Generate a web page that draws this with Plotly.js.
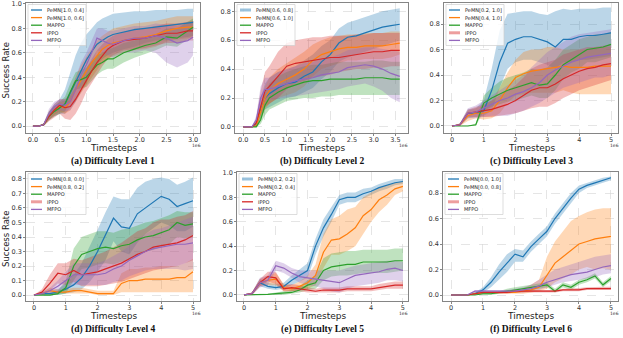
<!DOCTYPE html>
<html>
<head>
<meta charset="utf-8">
<script src="https://cdn.plot.ly/plotly-3.0.1.min.js"></script>
<style>html,body{margin:0;padding:0;background:#fff}</style>
</head>
<body>
<div id="chart" style="width:623px;height:338px"></div>
<script>
// timesteps are in units of 1e6

// (a) Difficulty Level 1
const aX = [0,0.1,0.2,0.3,0.4,0.5,0.6,0.7,0.8,0.9,1.0,1.1,1.2,1.3,1.4,1.5,1.7,1.9,2.1,2.3,2.5,2.7,2.9,3.0];
const aBlue = [0,0,0.01,0.08,0.12,0.15,0.18,0.27,0.36,0.46,0.54,0.61,0.67,0.7,0.73,0.75,0.77,0.79,0.8,0.81,0.82,0.83,0.845,0.85];
const aBlueHi = [0,0,0.02,0.12,0.18,0.22,0.3,0.45,0.58,0.68,0.75,0.8,0.85,0.88,0.9,0.92,0.93,0.94,0.94,0.95,0.95,0.95,0.96,0.96];
const aBlueLo = [0,0,0,0.05,0.08,0.1,0.1,0.15,0.2,0.28,0.35,0.45,0.5,0.55,0.58,0.6,0.63,0.65,0.68,0.7,0.7,0.72,0.73,0.74];
const aOrange = [0,0,0.01,0.08,0.12,0.16,0.15,0.2,0.3,0.38,0.45,0.52,0.58,0.63,0.66,0.68,0.7,0.72,0.73,0.75,0.78,0.8,0.81,0.81];
const aOrangeHi = [0,0,0.02,0.11,0.16,0.2,0.2,0.28,0.4,0.5,0.57,0.64,0.7,0.74,0.77,0.8,0.82,0.84,0.85,0.86,0.88,0.9,0.9,0.9];
const aOrangeLo = [0,0,0,0.05,0.09,0.12,0.1,0.13,0.2,0.27,0.34,0.4,0.46,0.52,0.55,0.57,0.6,0.62,0.63,0.65,0.69,0.71,0.72,0.72];
const aGreen = [0,0,0.01,0.08,0.12,0.15,0.18,0.28,0.37,0.38,0.4,0.45,0.5,0.52,0.55,0.55,0.6,0.63,0.66,0.68,0.73,0.72,0.78,0.81];
const aGreenHi = [0,0,0.02,0.12,0.16,0.2,0.24,0.35,0.44,0.46,0.48,0.53,0.58,0.6,0.63,0.64,0.68,0.7,0.73,0.75,0.8,0.8,0.85,0.88];
const aGreenLo = [0,0,0,0.05,0.08,0.1,0.12,0.2,0.3,0.31,0.32,0.37,0.42,0.45,0.47,0.47,0.52,0.56,0.59,0.62,0.66,0.65,0.71,0.74];
const aRed = [0,0,0.01,0.08,0.13,0.17,0.15,0.16,0.22,0.3,0.38,0.45,0.52,0.58,0.63,0.66,0.7,0.71,0.72,0.74,0.76,0.76,0.78,0.78];
const aRedHi = [0,0,0.02,0.12,0.18,0.22,0.22,0.25,0.32,0.4,0.48,0.55,0.62,0.67,0.71,0.74,0.77,0.79,0.8,0.82,0.84,0.84,0.85,0.86];
const aRedLo = [0,0,0,0.04,0.07,0.1,0.06,0.05,0.1,0.18,0.28,0.35,0.42,0.49,0.55,0.58,0.62,0.63,0.64,0.66,0.68,0.68,0.7,0.7];
const aPurple = [0,0,0.01,0.1,0.16,0.18,0.17,0.2,0.3,0.42,0.5,0.6,0.72,0.7,0.68,0.67,0.7,0.72,0.72,0.74,0.72,0.68,0.7,0.73];
const aPurpleHi = [0,0,0.02,0.14,0.2,0.22,0.22,0.28,0.4,0.52,0.6,0.7,0.8,0.8,0.78,0.78,0.8,0.82,0.82,0.84,0.83,0.82,0.84,0.86];
const aPurpleLo = [0,0,0,0.06,0.11,0.13,0.12,0.13,0.2,0.32,0.4,0.5,0.62,0.6,0.58,0.56,0.6,0.6,0.62,0.6,0.52,0.48,0.52,0.58];
const aNames = ['PeMN[1.0, 0.4]', 'PeMN[1.0, 0.6]', 'MAPPO', 'IPPO', 'MFPO'];

// (b) Difficulty Level 2
const bX = [0,0.2,0.3,0.4,0.5,0.6,0.8,1.0,1.2,1.4,1.6,1.8,2.0,2.2,2.4,2.6,2.8,3.0,3.2,3.4,3.6];
const bBlue = [0,0,0.02,0.12,0.2,0.23,0.27,0.3,0.31,0.35,0.38,0.45,0.5,0.58,0.62,0.63,0.65,0.67,0.69,0.7,0.71];
const bBlueHi = [0,0,0.04,0.2,0.3,0.34,0.38,0.4,0.42,0.46,0.5,0.56,0.6,0.68,0.72,0.74,0.76,0.78,0.8,0.81,0.82];
const bBlueLo = [0,0,0,0.06,0.12,0.14,0.17,0.2,0.21,0.24,0.27,0.33,0.38,0.45,0.48,0.5,0.52,0.54,0.56,0.58,0.6];
const bOrange = [0,0,0.01,0.1,0.2,0.25,0.3,0.33,0.36,0.4,0.46,0.5,0.52,0.54,0.55,0.55,0.56,0.56,0.56,0.57,0.58];
const bOrangeHi = [0,0,0.02,0.16,0.28,0.34,0.4,0.44,0.48,0.52,0.57,0.6,0.62,0.63,0.64,0.64,0.65,0.65,0.65,0.66,0.66];
const bOrangeLo = [0,0,0,0.05,0.12,0.16,0.2,0.22,0.24,0.28,0.35,0.4,0.42,0.44,0.46,0.46,0.47,0.47,0.47,0.48,0.5];
const bGreen = [0,0,0,0.05,0.15,0.2,0.24,0.27,0.29,0.31,0.32,0.32,0.33,0.33,0.33,0.33,0.34,0.34,0.34,0.33,0.33];
const bGreenHi = [0,0,0.01,0.1,0.24,0.3,0.35,0.38,0.4,0.42,0.43,0.43,0.44,0.45,0.45,0.45,0.45,0.46,0.46,0.45,0.45];
const bGreenLo = [0,0,0,0.02,0.08,0.12,0.15,0.18,0.19,0.2,0.2,0.21,0.21,0.22,0.22,0.22,0.22,0.22,0.22,0.22,0.22];
const bRed = [0,0,0.03,0.15,0.25,0.28,0.35,0.42,0.44,0.45,0.46,0.47,0.48,0.48,0.49,0.5,0.51,0.52,0.52,0.53,0.53];
const bRedHi = [0,0,0.06,0.25,0.38,0.42,0.52,0.58,0.6,0.61,0.62,0.62,0.63,0.63,0.63,0.64,0.64,0.65,0.65,0.65,0.65];
const bRedLo = [0,0,0,0.08,0.14,0.16,0.2,0.26,0.3,0.32,0.34,0.35,0.36,0.38,0.39,0.4,0.4,0.41,0.41,0.42,0.42];
const bPurple = [0,0,0.05,0.2,0.26,0.26,0.28,0.3,0.32,0.33,0.34,0.36,0.37,0.38,0.41,0.42,0.43,0.42,0.4,0.37,0.35];
const bPurpleHi = [0,0,0.08,0.28,0.34,0.34,0.38,0.4,0.42,0.44,0.45,0.47,0.48,0.5,0.53,0.54,0.55,0.55,0.54,0.53,0.52];
const bPurpleLo = [0,0,0.02,0.12,0.18,0.18,0.19,0.2,0.21,0.22,0.23,0.24,0.25,0.26,0.28,0.29,0.3,0.28,0.25,0.2,0.17];
const bNames = ['PeMN[0.6, 0.8]', 'PeMN[0.6, 1.0]', 'MAPPO', 'IPPO', 'MFPO'];

// shared grid for levels 3-6
const cX = [0,0.25,0.5,0.75,1.0,1.25,1.5,1.75,2.0,2.25,2.5,2.75,3.0,3.25,3.5,3.75,4.0,4.25,4.5,4.75,5.0];

// (c) Difficulty Level 3
const cBlue = [0,0.01,0.1,0.1,0.12,0.28,0.5,0.65,0.68,0.7,0.7,0.68,0.66,0.62,0.68,0.68,0.7,0.71,0.71,0.72,0.73];
const cBlueHi = [0,0.02,0.13,0.14,0.2,0.45,0.75,0.88,0.89,0.9,0.9,0.88,0.87,0.9,0.92,0.91,0.92,0.92,0.92,0.93,0.93];
const cBlueLo = [0,0,0.06,0.07,0.08,0.12,0.3,0.45,0.5,0.52,0.52,0.5,0.48,0.45,0.5,0.5,0.52,0.52,0.53,0.54,0.55];
const cOrange = [0,0.01,0.08,0.1,0.1,0.12,0.2,0.3,0.38,0.41,0.43,0.44,0.45,0.46,0.47,0.46,0.46,0.46,0.47,0.47,0.47];
const cOrangeHi = [0,0.02,0.12,0.14,0.16,0.2,0.3,0.42,0.52,0.58,0.6,0.6,0.62,0.62,0.6,0.6,0.6,0.6,0.62,0.62,0.62];
const cOrangeLo = [0,0,0.04,0.06,0.05,0.06,0.1,0.18,0.24,0.25,0.26,0.26,0.26,0.26,0.28,0.26,0.25,0.25,0.25,0.25,0.25];
const cGreen = [0,0,0,0.01,0.18,0.22,0.25,0.28,0.3,0.32,0.34,0.32,0.33,0.4,0.48,0.52,0.56,0.6,0.61,0.62,0.64];
const cGreenHi = [0,0,0,0.02,0.24,0.3,0.35,0.38,0.4,0.42,0.45,0.44,0.46,0.52,0.6,0.64,0.68,0.7,0.72,0.72,0.74];
const cGreenLo = [0,0,0,0,0.12,0.15,0.17,0.19,0.2,0.22,0.24,0.22,0.22,0.28,0.37,0.42,0.45,0.5,0.5,0.52,0.54];
const cRed = [0,0.01,0.1,0.11,0.12,0.13,0.15,0.17,0.2,0.24,0.28,0.3,0.3,0.33,0.37,0.4,0.43,0.45,0.46,0.48,0.49];
const cRedHi = [0,0.02,0.13,0.15,0.17,0.2,0.24,0.28,0.32,0.38,0.45,0.48,0.5,0.52,0.56,0.58,0.6,0.62,0.62,0.63,0.64];
const cRedLo = [0,0,0.07,0.07,0.07,0.07,0.08,0.09,0.1,0.12,0.14,0.15,0.15,0.18,0.22,0.25,0.28,0.3,0.32,0.34,0.36];
const cPurple = [0,0.01,0.1,0.11,0.14,0.17,0.2,0.22,0.25,0.27,0.3,0.34,0.4,0.44,0.47,0.5,0.52,0.54,0.55,0.56,0.57];
const cPurpleHi = [0,0.02,0.14,0.16,0.2,0.24,0.28,0.32,0.36,0.4,0.46,0.52,0.58,0.62,0.66,0.7,0.72,0.73,0.74,0.75,0.76];
const cPurpleLo = [0,0,0.06,0.06,0.07,0.08,0.08,0.08,0.1,0.12,0.15,0.18,0.22,0.26,0.3,0.32,0.34,0.36,0.38,0.38,0.4];
const cNames = ['PeMN[0.2, 1.0]', 'PeMN[0.4, 1.0]', 'MAPPO', 'IPPO', 'MFPO'];

// (d) Difficulty Level 4
const dBlue = [0,0.01,0.01,0.02,0.04,0.07,0.12,0.2,0.3,0.42,0.53,0.47,0.46,0.56,0.6,0.64,0.68,0.66,0.61,0.63,0.65];
const dBlueHi = [0,0.02,0.03,0.04,0.08,0.14,0.22,0.33,0.45,0.57,0.68,0.66,0.66,0.74,0.78,0.8,0.81,0.8,0.76,0.78,0.81];
const dBlueLo = [0,0,0,0,0.01,0.02,0.04,0.09,0.16,0.24,0.37,0.3,0.28,0.36,0.42,0.46,0.5,0.48,0.44,0.44,0.47];
const dOrange = [0,0.01,0.03,0.02,0.02,0.03,0.03,0.02,0.01,0.01,0.01,0.08,0.1,0.1,0.11,0.11,0.11,0.11,0.12,0.12,0.16];
const dOrangeHi = [0,0.02,0.05,0.04,0.04,0.05,0.05,0.04,0.03,0.03,0.03,0.15,0.18,0.18,0.19,0.19,0.2,0.2,0.2,0.22,0.25];
const dOrangeLo = [0,0,0.01,0.01,0.01,0.01,0.01,0.01,0,0,0,0.02,0.02,0.02,0.02,0.02,0.02,0.02,0.02,0.02,0.02];
const dGreen = [0,0,0,0.01,0.05,0.2,0.28,0.3,0.32,0.33,0.32,0.34,0.35,0.38,0.4,0.41,0.43,0.45,0.5,0.48,0.49];
const dGreenHi = [0,0.01,0.01,0.03,0.1,0.32,0.4,0.42,0.44,0.44,0.43,0.45,0.46,0.48,0.5,0.51,0.53,0.55,0.58,0.57,0.57];
const dGreenLo = [0,0,0,0,0.01,0.1,0.18,0.19,0.21,0.22,0.21,0.23,0.24,0.27,0.3,0.31,0.33,0.35,0.4,0.39,0.4];
const dRed = [0,0.02,0.08,0.15,0.14,0.17,0.14,0.15,0.16,0.18,0.2,0.22,0.25,0.28,0.3,0.33,0.34,0.35,0.36,0.38,0.41];
const dRedHi = [0,0.04,0.14,0.22,0.22,0.25,0.24,0.26,0.28,0.3,0.33,0.36,0.4,0.44,0.46,0.5,0.52,0.52,0.54,0.55,0.58];
const dRedLo = [0,0.01,0.03,0.08,0.07,0.09,0.06,0.06,0.06,0.07,0.08,0.09,0.11,0.13,0.15,0.17,0.18,0.19,0.2,0.22,0.24];
const dPurple = [0,0.01,0.03,0.06,0.1,0.14,0.14,0.14,0.14,0.15,0.18,0.2,0.24,0.27,0.3,0.32,0.33,0.34,0.35,0.35,0.36];
const dPurpleHi = [0,0.02,0.05,0.1,0.16,0.22,0.22,0.22,0.22,0.24,0.27,0.3,0.34,0.38,0.42,0.45,0.46,0.48,0.5,0.52,0.54];
const dPurpleLo = [0,0,0.01,0.02,0.04,0.07,0.07,0.07,0.07,0.07,0.09,0.1,0.13,0.15,0.17,0.18,0.18,0.18,0.18,0.17,0.18];
const dNames = ['PeMN[0.8, 0.0]', 'PeMN[0.8, 0.2]', 'MAPPO', 'IPPO', 'MFPO'];

// (e) Difficulty Level 5
const eBlue = [0,0.01,0.1,0.07,0.06,0.07,0.12,0.16,0.2,0.4,0.55,0.66,0.78,0.8,0.8,0.83,0.85,0.88,0.9,0.92,0.93];
const eBlueHi = [0,0.02,0.13,0.1,0.09,0.1,0.16,0.21,0.26,0.46,0.62,0.72,0.82,0.84,0.84,0.87,0.88,0.91,0.93,0.95,0.95];
const eBlueLo = [0,0,0.07,0.05,0.04,0.05,0.08,0.11,0.14,0.33,0.48,0.6,0.74,0.76,0.76,0.79,0.82,0.85,0.87,0.9,0.91];
const eOrange = [0,0.01,0.1,0.12,0.13,0.06,0.05,0.07,0.1,0.16,0.35,0.45,0.46,0.5,0.55,0.65,0.7,0.78,0.82,0.87,0.89];
const eOrangeHi = [0,0.02,0.13,0.16,0.18,0.09,0.08,0.11,0.16,0.25,0.5,0.62,0.65,0.7,0.72,0.8,0.84,0.88,0.9,0.92,0.93];
const eOrangeLo = [0,0,0.07,0.08,0.08,0.03,0.03,0.04,0.05,0.08,0.22,0.33,0.33,0.36,0.4,0.5,0.6,0.68,0.74,0.82,0.85];
const eGreen = [0,0,0,0.005,0.01,0.015,0.02,0.04,0.08,0.1,0.2,0.23,0.24,0.25,0.25,0.27,0.27,0.27,0.27,0.28,0.28];
const eGreenHi = [0,0,0.01,0.01,0.02,0.03,0.04,0.07,0.12,0.16,0.3,0.34,0.35,0.36,0.36,0.37,0.37,0.37,0.37,0.38,0.38];
const eGreenLo = [0,0,0,0,0,0,0.01,0.02,0.04,0.05,0.12,0.15,0.16,0.16,0.17,0.18,0.18,0.18,0.18,0.19,0.2];
const eRed = [0,0.01,0.1,0.15,0.14,0.05,0.06,0.05,0.04,0.03,0.04,0.04,0.04,0.05,0.05,0.05,0.05,0.06,0.07,0.08,0.08];
const eRedHi = [0,0.02,0.13,0.19,0.19,0.08,0.09,0.08,0.06,0.05,0.06,0.06,0.06,0.07,0.07,0.07,0.07,0.09,0.1,0.11,0.11];
const eRedLo = [0,0,0.07,0.11,0.09,0.03,0.03,0.03,0.02,0.02,0.02,0.02,0.02,0.03,0.03,0.03,0.03,0.04,0.05,0.05,0.05];
const ePurple = [0,0.01,0.1,0.12,0.24,0.22,0.18,0.15,0.14,0.13,0.12,0.11,0.1,0.13,0.16,0.17,0.18,0.19,0.21,0.22,0.2];
const ePurpleHi = [0,0.02,0.14,0.16,0.28,0.26,0.22,0.2,0.2,0.2,0.2,0.2,0.2,0.22,0.24,0.25,0.26,0.27,0.28,0.28,0.27];
const ePurpleLo = [0,0,0.06,0.08,0.2,0.18,0.14,0.1,0.08,0.07,0.05,0.03,0.02,0.05,0.07,0.08,0.09,0.1,0.12,0.12,0.11];
const eNames = ['PeMN[0.2, 0.2]', 'PeMN[0.2, 0.4]', 'MAPPO', 'IPPO', 'MFPO'];

// (f) Difficulty Level 6
const fBlue = [0,0,0,0.01,0.04,0.1,0.18,0.25,0.32,0.3,0.38,0.44,0.5,0.6,0.68,0.76,0.83,0.86,0.88,0.9,0.92];
const fBlueHi = [0,0,0,0.02,0.06,0.14,0.24,0.32,0.36,0.35,0.42,0.48,0.54,0.64,0.72,0.8,0.86,0.88,0.9,0.92,0.93];
const fBlueLo = [0,0,0,0,0.02,0.06,0.12,0.18,0.26,0.26,0.34,0.4,0.46,0.56,0.64,0.72,0.8,0.84,0.86,0.88,0.9];
const fOrange = [0,0,0,0.01,0.02,0.02,0.02,0.02,0.02,0.03,0.04,0.06,0.15,0.25,0.3,0.35,0.4,0.42,0.44,0.45,0.46];
const fOrangeHi = [0,0,0,0.02,0.03,0.03,0.03,0.03,0.03,0.05,0.08,0.12,0.3,0.42,0.5,0.58,0.62,0.65,0.67,0.68,0.68];
const fOrangeLo = [0,0,0,0,0.01,0.01,0.01,0.01,0.01,0.01,0.02,0.03,0.05,0.1,0.13,0.16,0.2,0.22,0.2,0.21,0.2];
const fGreen = [0,0,0,0,0.01,0.01,0.02,0.03,0.04,0.05,0.06,0.07,0.08,0.03,0.08,0.06,0.1,0.12,0.15,0.08,0.13];
const fGreenHi = [0,0,0,0,0.02,0.02,0.03,0.05,0.06,0.07,0.08,0.09,0.1,0.05,0.1,0.08,0.12,0.14,0.17,0.1,0.15];
const fGreenLo = [0,0,0,0,0,0,0.01,0.02,0.03,0.04,0.04,0.05,0.06,0.02,0.06,0.04,0.08,0.1,0.13,0.06,0.11];
const fRed = [0,0,0,0.01,0.02,0.02,0.02,0.02,0.03,0.03,0.03,0.03,0.03,0.03,0.04,0.04,0.04,0.05,0.05,0.05,0.05];
const fRedHi = [0,0,0,0.02,0.03,0.03,0.03,0.03,0.04,0.04,0.04,0.04,0.04,0.04,0.05,0.05,0.055,0.06,0.065,0.065,0.065];
const fRedLo = [0,0,0,0,0.01,0.01,0.01,0.01,0.02,0.02,0.02,0.02,0.02,0.02,0.03,0.03,0.03,0.04,0.04,0.04,0.04];
const fPurple = [0,0,0,0.03,0.03,0.03,0.03,0.03,0.03,0.04,0.05,0.07,0.1,0.12,0.14,0.16,0.17,0.18,0.2,0.22,0.23];
const fPurpleHi = [0,0,0,0.04,0.04,0.04,0.04,0.04,0.05,0.06,0.08,0.12,0.16,0.2,0.22,0.24,0.26,0.28,0.3,0.31,0.32];
const fPurpleLo = [0,0,0,0.02,0.02,0.02,0.02,0.02,0.02,0.02,0.03,0.04,0.06,0.08,0.1,0.11,0.12,0.13,0.14,0.16,0.17];
const fNames = ['PeMN[0.0, 1.0]', 'PeMN[0.0, 0.8]', 'MAPPO', 'IPPO', 'MFPO'];

const colors = ['31,119,180', '255,127,14', '44,160,44', '214,39,40', '148,103,189'];

const W = 623, H = 338;
const px = v => v / W;
const py = v => 1 - v / H;

// frame = [left, right, top, bottom] in pixels; thick = legend entry drawn as pale wide line
const panels = [
  {x: aX, s: [[aBlue, aBlueLo, aBlueHi], [aOrange, aOrangeLo, aOrangeHi], [aGreen, aGreenLo, aGreenHi], [aRed, aRedLo, aRedHi], [aPurple, aPurpleLo, aPurpleHi]],
   names: aNames, frame: [26, 200, 3, 133], xr: [-0.13, 3.13], yr: [-0.057, 1.008], dx: 0.5, dy: 0.2, xf: '.1f', thick: -1, cap: '(a) Difficulty Level 1', ylab: true},
  {x: bX, s: [[bBlue, bBlueLo, bBlueHi], [bOrange, bOrangeLo, bOrangeHi], [bGreen, bGreenLo, bGreenHi], [bRed, bRedLo, bRedHi], [bPurple, bPurpleLo, bPurpleHi]],
   names: bNames, frame: [235, 408, 3, 133], xr: [-0.19, 3.79], yr: [-0.042, 0.857], dx: 0.5, dy: 0.2, xf: '.1f', thick: 0, cap: '(b) Difficulty Level 2'},
  {x: cX, s: [[cBlue, cBlueLo, cBlueHi], [cOrange, cOrangeLo, cOrangeHi], [cGreen, cGreenLo, cGreenHi], [cRed, cRedLo, cRedHi], [cPurple, cPurpleLo, cPurpleHi]],
   names: cNames, frame: [444, 618, 3, 133], xr: [-0.25, 5.22], yr: [-0.055, 0.965], dx: 1, dy: 0.2, xf: 'd', thick: 3, cap: '(c) Difficulty Level 3'},
  {x: cX, s: [[dBlue, dBlueLo, dBlueHi], [dOrange, dOrangeLo, dOrangeHi], [dGreen, dGreenLo, dGreenHi], [dRed, dRedLo, dRedHi], [dPurple, dPurpleLo, dPurpleHi]],
   names: dNames, frame: [26, 200, 172, 301], xr: [-0.25, 5.22], yr: [-0.041, 0.848], dx: 1, dy: 0.1, xf: 'd', thick: 3, cap: '(d) Difficulty Level 4', ylab: true},
  {x: cX, s: [[eBlue, eBlueLo, eBlueHi], [eOrange, eOrangeLo, eOrangeHi], [eGreen, eGreenLo, eGreenHi], [eRed, eRedLo, eRedHi], [ePurple, ePurpleLo, ePurpleHi]],
   names: eNames, frame: [237, 408, 172, 301], xr: [-0.22, 5.16], yr: [-0.05, 1.008], dx: 1, dy: 0.2, xf: 'd', thick: 0, cap: '(e) Difficulty Level 5'},
  {x: cX, s: [[fBlue, fBlueLo, fBlueHi], [fOrange, fOrangeLo, fOrangeHi], [fGreen, fGreenLo, fGreenHi], [fRed, fRedLo, fRedHi], [fPurple, fPurpleLo, fPurpleHi]],
   names: fNames, frame: [443, 618, 172, 301], xr: [-0.25, 5.22], yr: [-0.047, 0.965], dx: 1, dy: 0.2, xf: 'd', thick: 3, cap: '(f) Difficulty Level 6'}
];

const tickFont = {family: 'DejaVu Sans', size: 6.5, color: '#333'};
const data = [];
const layout = {
  width: W, height: H,
  margin: {l: 0, r: 0, t: 0, b: 0},
  paper_bgcolor: '#fff', plot_bgcolor: '#fff',
  showlegend: false,
  shapes: [], annotations: []
};

panels.forEach((p, i) => {
  const n = i === 0 ? '' : String(i + 1);
  const xa = 'x' + n, ya = 'y' + n;
  const [fl, fr, ft, fb] = p.frame;

  p.s.forEach((ser, k) => {
    const [mean, lo, hi] = ser;
    data.push({
      x: p.x.concat(p.x.slice().reverse()),
      y: hi.concat(lo.slice().reverse()),
      fill: 'toself', fillcolor: 'rgba(' + colors[k] + ',0.3)',
      line: {width: 0}, mode: 'lines', hoverinfo: 'skip',
      xaxis: xa, yaxis: ya
    });
  });
  p.s.forEach((ser, k) => {
    data.push({
      x: p.x, y: ser[0], mode: 'lines', name: p.names[k],
      line: {color: 'rgb(' + colors[k] + ')', width: 1.2},
      xaxis: xa, yaxis: ya
    });
  });

  const common = {
    showline: true, mirror: true, linecolor: '#666', linewidth: 0.8,
    ticks: 'outside', ticklen: 2, tickwidth: 0.8, tickcolor: '#666',
    tickfont: tickFont, showgrid: true, gridcolor: '#d4d4d4', gridwidth: 0.6,
    griddash: 'dash', zeroline: false, fixedrange: true
  };
  layout['xaxis' + n] = Object.assign({}, common, {
    domain: [px(fl), px(fr)], range: p.xr, anchor: ya,
    tick0: 0, dtick: p.dx, tickformat: p.xf, ticklabelstandoff: -2
  });
  layout['yaxis' + n] = Object.assign({}, common, {
    domain: [py(fb), py(ft)], range: p.yr, anchor: xa,
    tick0: 0, dtick: p.dy, tickformat: '.1f'
  });

  // legend box
  const lx = fl + 2, ly = ft + 1.5;
  layout.shapes.push({
    type: 'rect', xref: 'paper', yref: 'paper', layer: 'above',
    x0: px(lx), x1: px(lx + 58), y0: py(ly), y1: py(ly + 41),
    line: {color: '#cfcfcf', width: 0.7}, fillcolor: 'rgba(255,255,255,0.8)'
  });
  p.names.forEach((name, k) => {
    const yy = ly + 5.5 + k * 7.6;
    const pale = k === p.thick;
    layout.shapes.push({
      type: 'line', xref: 'paper', yref: 'paper', layer: 'above',
      x0: px(lx + 3), x1: px(lx + 14), y0: py(yy), y1: py(yy),
      line: {color: pale ? 'rgba(' + colors[k] + ',0.45)' : 'rgb(' + colors[k] + ')', width: pale ? 3 : 1.3}
    });
    layout.annotations.push({
      text: name, xref: 'paper', yref: 'paper', x: px(lx + 16.5), y: py(yy),
      xanchor: 'left', yanchor: 'middle', showarrow: false,
      font: {family: 'DejaVu Sans', size: 5, color: '#222'}
    });
  });

  const cx = (fl + fr) / 2;
  layout.annotations.push({
    text: 'Timesteps', xref: 'paper', yref: 'paper', x: px(cx), y: py(fb + 15.2),
    xanchor: 'center', yanchor: 'middle', showarrow: false,
    font: {family: 'DejaVu Sans', size: 9, color: '#222'}
  });
  layout.annotations.push({
    text: '1e6', xref: 'paper', yref: 'paper', x: px(fr - 4), y: py(fb + 12),
    xanchor: 'center', yanchor: 'middle', showarrow: false,
    font: {family: 'DejaVu Sans', size: 4.5, color: '#333'}
  });
  layout.annotations.push({
    text: '<b>' + p.cap + '</b>', xref: 'paper', yref: 'paper', x: px(cx), y: py(fb + 28.5),
    xanchor: 'center', yanchor: 'middle', showarrow: false,
    font: {family: 'Liberation Serif', size: 9.5, color: '#111'}
  });
  if (p.ylab) {
    layout.annotations.push({
      text: 'Success Rate', xref: 'paper', yref: 'paper', x: px(5.5), y: py((ft + fb) / 2 + 3),
      xanchor: 'center', yanchor: 'middle', showarrow: false, textangle: -90,
      font: {family: 'DejaVu Sans', size: 8.5, color: '#222'}
    });
  }
});

Plotly.newPlot('chart', data, layout, {displayModeBar: false, staticPlot: true});
</script>
</body>
</html>
